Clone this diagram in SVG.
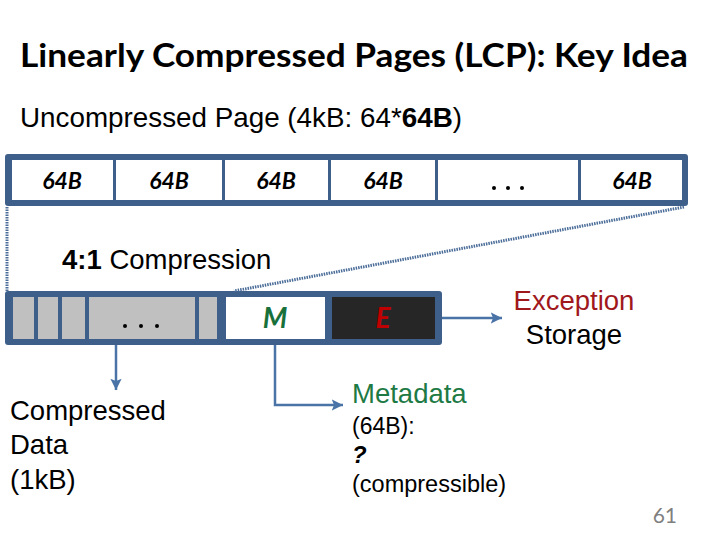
<svg xmlns="http://www.w3.org/2000/svg" width="720" height="540" viewBox="0 0 720 540">
<defs>
<style>
.t{font-family:"Liberation Sans",Arial,sans-serif;fill:#000}
.cell{font-family:Lato,"Liberation Sans",sans-serif;font-weight:bold;font-style:italic;text-anchor:middle}
.bar{fill:#3e5f8a}
.dot{fill:#000}
.conn{stroke:#4a74a8;stroke-width:2.5;fill:none}
.dotted{stroke:#4a6c98;stroke-width:3;stroke-dasharray:1.5 1;fill:none}
</style>
<marker id="ah" viewBox="0 0 10 10" refX="10" refY="5" markerWidth="4.5" markerHeight="4.5" orient="auto" markerUnits="strokeWidth">
<path d="M0,0 L10,5 L0,10 L2,5 Z" fill="#4a74a8"/>
</marker>
</defs>
<rect width="720" height="540" fill="#fff"/>
<text x="20" y="67" font-family="Lato,'Noto Sans',sans-serif" font-weight="bold" font-size="33" textLength="668" lengthAdjust="spacingAndGlyphs" fill="#000">Linearly Compressed Pages (LCP): Key Idea</text>
<text class="t" x="20" y="127" font-size="27.5" textLength="442" lengthAdjust="spacingAndGlyphs">Uncompressed Page (4kB: 64*<tspan font-weight="bold">64B</tspan>)</text>

<g id="uncompressed-page">
<rect class="bar" x="5" y="154" width="683" height="52" rx="3"/>
<rect x="12" y="160" width="101" height="40" fill="#fff"/>
<rect x="116" y="160" width="106" height="40" fill="#fff"/>
<rect x="225" y="160" width="103" height="40" fill="#fff"/>
<rect x="331" y="160" width="104" height="40" fill="#fff"/>
<rect x="438" y="160" width="140" height="40" fill="#fff"/>
<rect x="581" y="160" width="101" height="40" fill="#fff"/>
<text class="cell" x="62" y="189" font-size="23">64B</text>
<text class="cell" x="169" y="189" font-size="23">64B</text>
<text class="cell" x="276" y="189" font-size="23">64B</text>
<text class="cell" x="383" y="189" font-size="23">64B</text>
<circle class="dot" cx="494" cy="188" r="2"/>
<circle class="dot" cx="508" cy="188" r="2"/>
<circle class="dot" cx="522" cy="188" r="2"/>
<text class="cell" x="632" y="189" font-size="23">64B</text>
</g>

<text class="t" x="62" y="269" font-size="27.5"><tspan font-weight="bold">4:1</tspan> Compression</text>

<g id="compressed-page">
<rect class="bar" x="5" y="291" width="437" height="54" rx="3"/>
<rect x="13" y="297" width="21" height="42" fill="#c0c0c0"/>
<rect x="38" y="297" width="20" height="42" fill="#c0c0c0"/>
<rect x="62" y="297" width="23" height="42" fill="#c0c0c0"/>
<rect x="89" y="297" width="106" height="42" fill="#c0c0c0"/>
<rect x="199" y="297" width="18" height="42" fill="#c0c0c0"/>
<rect x="226" y="297" width="99" height="42" fill="#fff"/>
<rect x="332" y="297" width="103" height="42" fill="#262626"/>
<circle class="dot" cx="125" cy="326" r="2"/>
<circle class="dot" cx="141" cy="326" r="2"/>
<circle class="dot" cx="157" cy="326" r="2"/>
<text class="cell" x="275" y="328" font-size="28" fill="#18703a">M</text>
<text class="cell" x="383" y="328" font-size="28" fill="#c00000">E</text>
</g>

<g id="exception-storage">
<text x="574" y="310" font-family="'Liberation Sans',Arial,sans-serif" font-size="27.5" text-anchor="middle" fill="#a0181c">Exception</text>
<text class="t" x="574" y="344" font-size="27.5" text-anchor="middle">Storage</text>
</g>

<g id="compressed-data">
<text class="t" x="10" y="420" font-size="27.5">Compressed</text>
<text class="t" x="10" y="454" font-size="27.5">Data</text>
<text class="t" x="10" y="489" font-size="27.5">(1kB)</text>
</g>

<g id="metadata">
<text x="352" y="403" font-family="'Liberation Sans',Arial,sans-serif" font-size="27.5" fill="#1e7a45">Metadata</text>
<text class="t" x="352" y="434" font-size="23">(64B):</text>
<text class="t" x="352" y="463" font-size="24" font-weight="bold" font-style="italic">?</text>
<text class="t" x="352" y="492" font-size="23.5">(compressible)</text>
</g>

<g id="connectors">
<path class="dotted" d="M7,207 V291"/>
<path class="dotted" d="M684,207 L234,291"/>
<path class="conn" d="M442,318 H502" marker-end="url(#ah)"/>
<path class="conn" d="M116,345 V390" marker-end="url(#ah)"/>
<path class="conn" d="M275,345 V405 H343" marker-end="url(#ah)"/>
</g>

<text x="677" y="523" font-family="Lato,'Liberation Sans',sans-serif" font-size="21" text-anchor="end" fill="#7f7f7f">61</text>
</svg>
